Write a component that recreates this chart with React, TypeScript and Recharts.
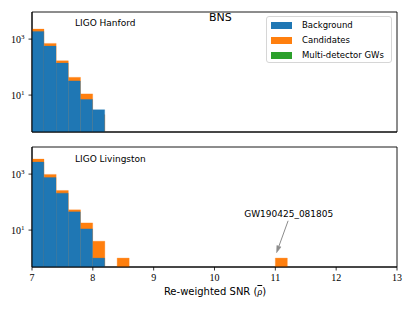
import React from 'react';
import { BarChart, Bar, XAxis, YAxis, ReferenceArea, ReferenceLine, ReferenceDot } from 'recharts';

// Bin centres (width 0.2, from 7.0 to 13.0)
const binCenters = [
  7.1, 7.3, 7.5, 7.7, 7.9, 8.1, 8.3, 8.5, 8.7, 8.9,
  9.1, 9.3, 9.5, 9.7, 9.9, 10.1, 10.3, 10.5, 10.7, 10.9,
  11.1, 11.3, 11.5, 11.7, 11.9, 12.1, 12.3, 12.5, 12.7, 12.9,
];

const hanfordBackground: (number | null)[] = [1885, 562, 139, 32, 7, 3];
const hanfordCandidates: (number | null)[] = [2275, 702, 168, 43, 11, 2];

const livingstonBackground: (number | null)[] = [2690, 760, 209, 45, 11, 1];
const livingstonCandidates: (number | null)[] = [3436, 975, 260, 53, 18, 4, null, 1, null, null,
  null, null, null, null, null, null, null, null, null, null, 1];

const xTicks = [7, 8, 9, 10, 11, 12, 13];
const yTicks = [10, 1000];
const yDomain = [0.48, 9300];

const annotationText = 'GW190425_081805';
const arrowFrom = { x: 11.21, y: 21.5 };
const arrowTo = { x: 11.02, y: 1.55 };
const annotationPos = { x: 11.22, y: 38 };

const BLUE = '#1f77b4';
const ORANGE = '#ff7f0e';
const GREEN = '#2ca02c';

const legendItems = [
  { label: 'Background', color: BLUE },
  { label: 'Candidates', color: ORANGE },
  { label: 'Multi-detector GWs', color: GREEN },
];

function buildData(bg: (number | null)[], cand: (number | null)[]) {
  return binCenters.map((x, i) => ({
    x,
    background: bg[i] ?? null,
    candidates: cand[i] ?? null,
  }));
}

const hanfordData = buildData(hanfordBackground, hanfordCandidates);
const livingstonData = buildData(livingstonBackground, livingstonCandidates);

const SERIF = '"Liberation Serif", "DejaVu Serif", serif';
const SANS = '"DejaVu Sans", sans-serif';

const LogTick = (props: any) => {
  const { x, y, payload } = props;
  const exp = Math.round(Math.log10(payload.value));
  return (
    <text x={x - 2} y={y} dy={3.5} textAnchor="end" fontFamily={SERIF} fontSize={10} fill="#000">
      <tspan>10</tspan>
      <tspan dy={-4} fontSize={7}>{exp}</tspan>
    </text>
  );
};

const NumTick = (props: any) => {
  const { x, y, payload } = props;
  return (
    <text x={x} y={y} dy={8} textAnchor="middle" fontFamily={SERIF} fontSize={10} fill="#000">
      {payload.value}
    </text>
  );
};

const ArrowShape = (props: any) => {
  const { x1, y1, x2, y2 } = props;
  if ([x1, y1, x2, y2].some((v) => v == null || isNaN(v))) return null;
  const dx = x2 - x1;
  const dy = y2 - y1;
  const len = Math.sqrt(dx * dx + dy * dy);
  const ux = dx / len;
  const uy = dy / len;
  const hl = 7;
  const hw = 2.2;
  const bx = x2 - ux * hl;
  const by = y2 - uy * hl;
  const px = -uy;
  const py = ux;
  return (
    <g>
      <line x1={x1} y1={y1} x2={bx} y2={by} stroke="#8c8c8c" strokeWidth={1} />
      <polygon
        points={`${x2},${y2} ${bx + px * hw},${by + py * hw} ${bx - px * hw},${by - py * hw}`}
        fill="#8c8c8c"
        stroke="#8c8c8c"
        strokeWidth={0.5}
      />
    </g>
  );
};

const TextShape = (props: any) => {
  const { cx, cy } = props;
  return (
    <text x={cx} y={cy} dy={3.5} textAnchor="middle" fontFamily={SANS} fontSize={9} fill="#000">
      {annotationText}
    </text>
  );
};

function Panel({ data, height, marginTop, xAxisHeight, showLabels, children }: any) {
  return (
    <BarChart
      width={415}
      height={height}
      data={data}
      margin={{ top: marginTop, right: 18, bottom: 0, left: 0 }}
      barCategoryGap={0}
      barGap="-100%"
    >
      <ReferenceArea
        x1={7}
        x2={13}
        y1={yDomain[0]}
        y2={yDomain[1]}
        fill="none"
        stroke="#000"
        strokeWidth={0.9}
        ifOverflow="visible"
      />
      <XAxis
        type="number"
        dataKey="x"
        domain={[7, 13]}
        ticks={xTicks}
        allowDataOverflow
        height={xAxisHeight}
        tickSize={3.5}
        stroke="#000"
        tickLine={{ stroke: '#000', strokeWidth: 0.8 }}
        tick={showLabels ? <NumTick /> : false}
        interval={0}
      />
      <YAxis
        scale="log"
        domain={yDomain}
        ticks={yTicks}
        allowDataOverflow
        width={32}
        tickSize={3.5}
        stroke="#000"
        tickLine={{ stroke: '#000', strokeWidth: 0.8 }}
        tick={<LogTick />}
        interval={0}
      />
      <Bar dataKey="candidates" fill={ORANGE} stroke={ORANGE} strokeWidth={0.3} isAnimationActive={false} />
      <Bar dataKey="background" fill={BLUE} stroke={BLUE} strokeWidth={0.3} isAnimationActive={false} />
      {children}
    </BarChart>
  );
}

export default function App() {
  return (
    <div style={{ position: 'absolute', left: 0, top: 0, width: 415, height: 311, background: '#fff', overflow: 'hidden' }}>
      <div style={{ position: 'absolute', left: 0, top: 0 }}>
        <Panel data={hanfordData} height={140} marginTop={12} xAxisHeight={8} showLabels={false} />
      </div>
      <div style={{ position: 'absolute', left: 0, top: 140 }}>
        <Panel data={livingstonData} height={171} marginTop={7} xAxisHeight={44} showLabels={true}>
          <ReferenceLine
            segment={[arrowFrom, arrowTo]}
            ifOverflow="visible"
            shape={<ArrowShape />}
          />
          <ReferenceDot
            x={annotationPos.x}
            y={annotationPos.y}
            r={0}
            ifOverflow="visible"
            shape={<TextShape />}
          />
        </Panel>
      </div>

      <div style={{ position: 'absolute', left: 75, top: 17, fontFamily: SANS, fontSize: 9, lineHeight: '12px', whiteSpace: 'nowrap' }}>
        LIGO Hanford
      </div>
      <div style={{ position: 'absolute', left: 75, top: 153, fontFamily: SANS, fontSize: 9, lineHeight: '12px', whiteSpace: 'nowrap' }}>
        LIGO Livingston
      </div>
      <div style={{ position: 'absolute', left: 209, top: 11, fontFamily: SANS, fontSize: 11, lineHeight: '14px', whiteSpace: 'nowrap' }}>
        BNS
      </div>

      <div
        style={{
          position: 'absolute',
          left: 266,
          top: 16,
          width: 124,
          height: 45,
          border: '1px solid #d6d6d6',
          borderRadius: 3,
          background: 'rgba(255,255,255,0.8)',
        }}
      >
        {legendItems.map((item, i) => (
          <div key={item.label} style={{ position: 'absolute', left: 0, top: 2 + i * 15, height: 15, width: 124 }}>
            <div style={{ position: 'absolute', left: 4, top: 3, width: 21, height: 7, background: item.color }} />
            <div style={{ position: 'absolute', left: 35, top: 0, fontFamily: SANS, fontSize: 8.5, lineHeight: '13px', whiteSpace: 'nowrap' }}>
              {item.label}
            </div>
          </div>
        ))}
      </div>

      <div style={{ position: 'absolute', left: 0, width: 430, top: 285, textAlign: 'center', fontFamily: SANS, fontSize: 10, lineHeight: '14px', whiteSpace: 'nowrap' }}>
        Re-weighted SNR (<span style={{ fontFamily: SERIF, fontStyle: 'italic', textDecoration: 'overline', textDecorationThickness: '0.6px' }}>ρ</span>)
      </div>
    </div>
  );
}
